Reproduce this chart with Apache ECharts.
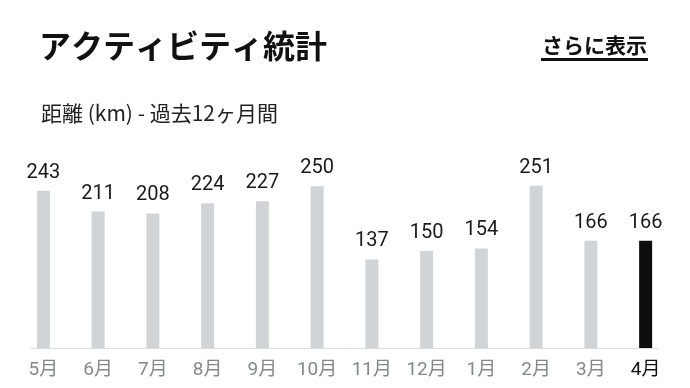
<!DOCTYPE html>
<html>
<head>
<meta charset="utf-8">
<script src="https://cdn.jsdelivr.net/npm/echarts@6/dist/echarts.min.js"></script>
<style>
  html, body { margin: 0; padding: 0; background: #fff; }
  #chart { width: 690px; height: 388px; }
</style>
</head>
<body>
<div id="chart"></div>
<script>
// 過去12ヶ月の距離 (km)
const months = ['5月', '6月', '7月', '8月', '9月', '10月', '11月', '12月', '1月', '2月', '3月', '4月'];
const distances = [243, 211, 208, 224, 227, 250, 137, 150, 154, 251, 166, 166];
const currentIndex = 11; // current month is highlighted

const fontStack = "Roboto, 'Noto Sans CJK JP', sans-serif";
const cjkFont = "'Noto Sans CJK JP', sans-serif";

const chart = echarts.init(document.getElementById('chart'));

const option = {
  animation: false,
  title: [
    {
      text: 'アクティビティ統計',
      left: 34,
      top: 25,
      textStyle: { fontFamily: cjkFont, fontSize: 32, fontWeight: 'bold', color: '#111' }
    },
    {
      text: '距離 (km) - 過去12ヶ月間',
      left: 36,
      top: 98,
      textStyle: { fontFamily: cjkFont, fontSize: 21, fontWeight: 'normal', color: '#222' }
    },
    {
      text: 'さらに表示',
      left: 537,
      top: 30,
      textStyle: { fontFamily: cjkFont, fontSize: 21, fontWeight: 'bold', color: '#111' }
    }
  ],
  graphic: [
    {
      type: 'rect',
      shape: { x: 541, y: 58, width: 107, height: 3 },
      style: { fill: '#111' }
    }
  ],
  grid: [
    { left: 16, right: 17, top: 154, bottom: 40 },
    // baseline only, a bit narrower than the bar grid
    { left: 31, right: 32, top: 154, bottom: 40 }
  ],
  xAxis: [
    {
      type: 'category',
      data: months,
      gridIndex: 0,
      axisLine: { show: false },
      axisTick: {
        alignWithLabel: true,
        length: 5,
        interval: (i) => i !== currentIndex,
        lineStyle: { color: '#d0d3d6' }
      },
      axisLabel: {
        margin: 13,
        fontFamily: fontStack,
        fontSize: 19,
        color: (value, index) => (index === currentIndex ? '#111' : '#85888b')
      }
    },
    {
      type: 'category',
      data: months,
      gridIndex: 0,
      position: 'bottom',
      axisLine: { show: false },
      axisTick: {
        alignWithLabel: true,
        length: 7,
        interval: (i) => i === currentIndex,
        lineStyle: { color: '#111', width: 2 }
      },
      axisLabel: { show: false }
    },
    {
      type: 'value',
      gridIndex: 1,
      min: 0,
      max: 1,
      axisLine: { show: true, lineStyle: { color: '#dcdee0', width: 1 } },
      axisTick: { show: false },
      axisLabel: { show: false },
      splitLine: { show: false }
    }
  ],
  yAxis: [
    {
      type: 'value',
      gridIndex: 0,
      min: 0,
      max: 300,
      show: false,
      splitLine: { show: false }
    },
    {
      type: 'value',
      gridIndex: 1,
      show: false,
      splitLine: { show: false }
    }
  ],
  series: [
    {
      type: 'bar',
      xAxisIndex: 0,
      yAxisIndex: 0,
      barWidth: 13,
      z: 3,
      data: distances.map((v, i) => ({
        value: v,
        itemStyle: { color: i === currentIndex ? '#0d0d0d' : '#d1d4d7' }
      })),
      label: {
        show: true,
        position: 'top',
        distance: 8,
        fontFamily: fontStack,
        fontSize: 20,
        color: '#1a1a1a'
      }
    }
  ]
};

chart.setOption(option);
</script>
</body>
</html>
